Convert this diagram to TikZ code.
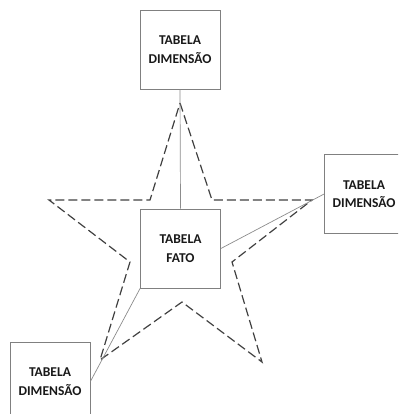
\documentclass[tikz,border=0pt]{standalone}
\usepackage{fontspec}
\setmainfont{Carlito}
\begin{document}
\begin{tikzpicture}[x=1pt,y=-1pt,
  tablebox/.style={draw=black!50, line width=0.8pt, fill=white, minimum width=80pt, minimum height=79pt,
    align=center, font=\bfseries\fontsize{13.5}{18.5}\selectfont, text=black!90, inner sep=0pt},
  link/.style={draw=black!45, line width=0.7pt},
  starline/.style={draw=black!75, line width=1.2pt, dash pattern=on 9pt off 4pt, line join=miter}]
  \useasboundingbox (0,0) rectangle (398,414);
  \clip (0,0) rectangle (398,414);
  % star outline
  \draw[starline] (180,103) -- (212,200) -- (312,200) -- (232,262) -- (262,362)
    -- (182,302) -- (100,360) -- (130,262) -- (49,200) -- (150,200) -- cycle;
  % tables
  \node[tablebox] (top) at (180,49.5) {TABELA\\DIMENSÃO};
  \node[tablebox] (fact) at (180.5,248.5) {TABELA\\FATO};
  \node[tablebox, minimum width=79pt] (right) at (364,194) {TABELA\\DIMENSÃO};
  \node[tablebox] (left) at (50,381.5) {TABELA\\DIMENSÃO};
  % connectors
  \draw[link] (top.south) -- (fact.north);
  \draw[link] (fact.east) -- (right.west);
  \draw[link] (fact.south west) -- (left.east);
\end{tikzpicture}
\end{document}
